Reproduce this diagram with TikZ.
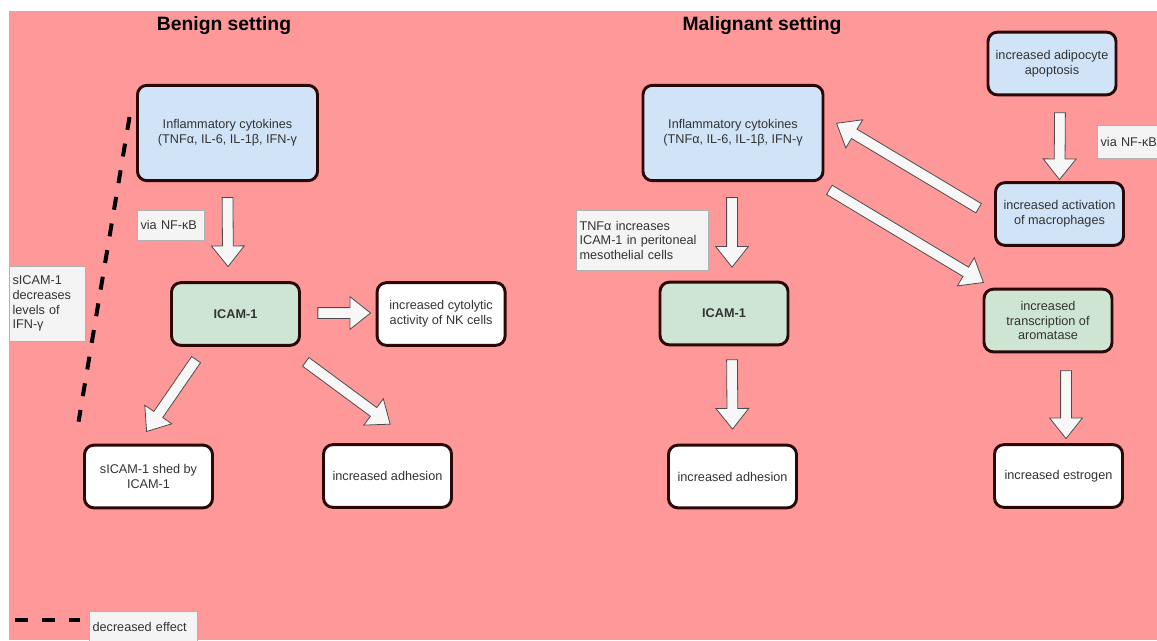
\documentclass[tikz,border=0pt]{standalone}
\usepackage{fontspec}
\setmainfont{Liberation Sans}
\usetikzlibrary{arrows.meta, positioning, shapes.arrows, calc}

\definecolor{bgpink}{HTML}{FF9999}
\definecolor{cytoblue}{HTML}{D0E3F7}
\definecolor{icamgreen}{HTML}{CDE5D2}
\definecolor{boxline}{HTML}{2A0808}
\definecolor{notefill}{HTML}{F4F4F4}
\definecolor{txtgray}{HTML}{333333}

% block arrow between two (shifted) anchors
\newcommand{\flowarrow}[2]{%
  \path let \p1=($#2-#1$), \n1={atan2(\y1,\x1)}, \n2={veclen(\x1,\y1)} in
    node[flow, minimum height=\n2, rotate=\n1] at ($#1!0.5!#2$) {};}

\begin{document}
\begin{tikzpicture}[
  x=0.75pt, y=-0.75pt,
  cell/.style={draw=boxline, line width=2.2pt, rounded corners=7pt, fill=white, minimum width=96pt, minimum height=47pt, align=center, text=txtgray, font=\fontsize{9.5}{11}\selectfont},
  bigcell/.style={cell, minimum width=135pt, minimum height=71.5pt},
  cyto/.style={fill=cytoblue},
  icam/.style={fill=icamgreen},
  note/.style={draw=gray!60, fill=notefill, align=left, text=txtgray, font=\fontsize{9.5}{11}\selectfont, inner xsep=2.5pt, inner ysep=2pt, anchor=north west},
  flow/.style={single arrow, draw=black!70, fill=white!97!black, line width=0.6pt, inner xsep=0pt, inner ysep=3.75pt, minimum width=0pt, single arrow head extend=8.25pt, single arrow tip angle=77},
  title/.style={font=\fontsize{14.5}{16}\selectfont\bfseries},
  decline/.style={line width=3pt, dash pattern=on 9.75pt off 10.5pt}
]
\useasboundingbox (0,0) rectangle (1157,640);
\clip (0,0) rectangle (1157,640);
\fill[bgpink] (9,11) rectangle (1157,640);

\node[title] (benign) at (224,26) {Benign setting};
\node[title] (malig)  at (762,26) {Malignant setting};

% benign side
\node[bigcell, cyto] (inflL) at (227.5,133) {Inflammatory cytokines\\(TNFα, IL-6, IL-1β, IFN-γ};
\node[cell, icam] (icamL) at (235.5,314) {\textbf{ICAM-1}};
\node[cell, right=56pt of icamL] (nkL) {increased cytolytic\\activity of NK cells};
\node[cell] (shedL) at (148.5,476.5) {sICAM-1 shed by\\ICAM-1};
\node[cell] (adhL)  at (387.5,476) {increased adhesion};

\node[note, text width=45pt, minimum height=22.5pt] (viaL) at (137,210) {via NF-κB};
\node[note, text width=52pt, minimum height=56pt] (decL) at (9,266) {sICAM-1\\decreases\\levels of\\IFN-γ};

\flowarrow{([shift={(0,12)}]inflL.south)}{([shift={(-7.5,-18)}]icamL.north)}
\flowarrow{([shift={(13.5,-1)}]icamL.east)}{([shift={(-8.5,-1)}]nkL.west)}
\flowarrow{([shift={(28,10)}]icamL.south west)}{([shift={(0,-15)}]shedL.north)}
\flowarrow{([shift={(2,13)}]icamL.south east)}{([shift={(0,-21)}]adhL.north)}

\draw[decline] ([shift={(-6.5,-16)}]inflL.west) -- ([shift={(-4.5,-22)}]shedL.north west);

% malignant side
\node[bigcell, cyto] (inflR) at (733,133) {Inflammatory cytokines\\(TNFα, IL-6, IL-1β, IFN-γ};
\node[cell, icam] (icamR) at (724,313.5) {\textbf{ICAM-1}};
\node[cell] (adhR) at (732.5,476.5) {increased adhesion};
\node[cell, cyto] (adipR) at (1052,63.5) {increased adipocyte\\apoptosis};
\node[cell, cyto] (macR) at (1059.5,214) {increased activation\\of macrophages};
\node[cell, icam] (aroR) at (1048,320.5) {increased\\transcription of\\aromatase};
\node[cell] (estR) at (1058.5,476) {increased estrogen};

\node[note, text width=94pt, minimum height=45pt] (tnfR) at (576,210) {TNFα increases\\ICAM-1 in peritoneal\\mesothelial cells};
\node[note, text width=45pt, minimum height=24.75pt] (viaR) at (1097,125) {via NF-κB};

\flowarrow{([shift={(-1,12)}]inflR.south)}{([shift={(8,-17)}]icamR.north)}
\flowarrow{([shift={(8,10)}]icamR.south)}{([shift={(0,-18)}]adhR.north)}
\flowarrow{([shift={(8,13)}]adipR.south)}{([shift={(0,-5)}]macR.north)}
\flowarrow{([shift={(-12.5,-4)}]macR.west)}{([shift={(15,-8)}]inflR.east)}
\flowarrow{([shift={(2,6)}]inflR.south east)}{([shift={(-2,-7)}]aroR.north west)}
\flowarrow{([shift={(18,14)}]aroR.south)}{([shift={(7.5,-8)}]estR.north)}

% legend
\coordinate (legA) at (15,620);
\coordinate (legB) at (80,620);
\draw[decline] (legA) -- (legB);
\node[note, text width=76pt, minimum height=24pt] (legend) at (89,611) {decreased effect};
\end{tikzpicture}
\end{document}
